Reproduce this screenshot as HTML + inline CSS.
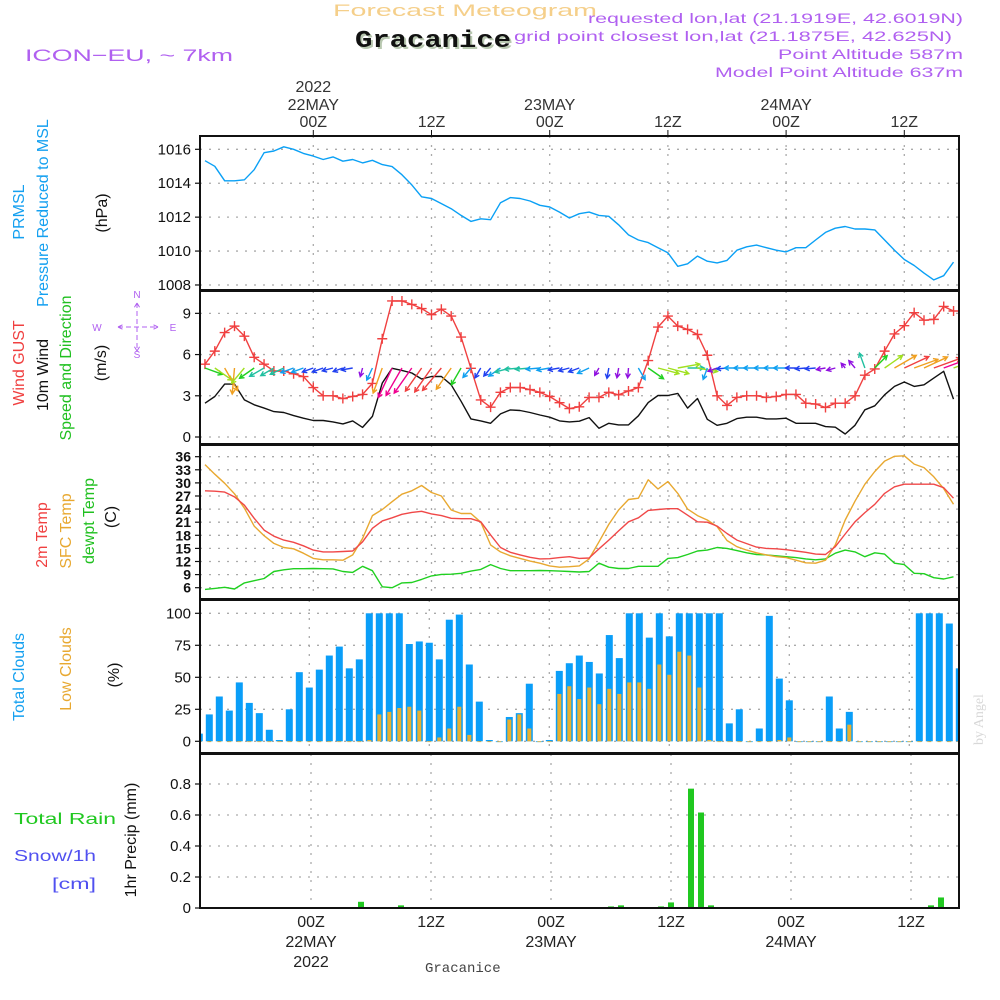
<!DOCTYPE html>
<html><head><meta charset="utf-8"><style>
html,body{margin:0;padding:0;background:#fff;}
svg{display:block;font-family:"Liberation Sans",sans-serif;}
</style></head><body>
<svg id="chart" width="1000" height="1000" viewBox="0 0 1000 1000" xmlns="http://www.w3.org/2000/svg">
<defs><clipPath id="plotclip"><rect x="200" y="136" width="759" height="772"/></clipPath></defs>
<rect width="1000" height="1000" fill="#fff"/>
<g>
<text x="333" y="16" fill="#f5cf8a" font-size="17" textLength="264" lengthAdjust="spacingAndGlyphs">Forecast Meteogram</text>
<text x="357" y="49" fill="#b8c8b0" font-family="Liberation Mono,monospace" font-weight="bold" font-size="24" textLength="156" lengthAdjust="spacingAndGlyphs">Gracanice</text>
<text x="355" y="47" fill="#111" font-family="Liberation Mono,monospace" font-weight="bold" font-size="24" textLength="156" lengthAdjust="spacingAndGlyphs">Gracanice</text>
<text x="25" y="61" fill="#b060f0" font-size="17" textLength="208" lengthAdjust="spacingAndGlyphs">ICON−EU, ~ 7km</text>
<g fill="#b060f0" font-size="14" text-anchor="end">
<text x="963" y="23" textLength="375" lengthAdjust="spacingAndGlyphs">requested lon,lat (21.1919E, 42.6019N)</text>
<text x="952" y="41" textLength="438" lengthAdjust="spacingAndGlyphs">grid point closest lon,lat (21.1875E, 42.625N)</text>
<text x="963" y="59" textLength="185" lengthAdjust="spacingAndGlyphs">Point Altitude 587m</text>
<text x="963" y="77" textLength="248" lengthAdjust="spacingAndGlyphs">Model Point Altitude 637m</text>
</g>
</g>
<g id="static"></g>
<g id="plot"></g>
<text transform="translate(983,745) rotate(-90)" fill="#d8d8d8" font-family="Liberation Serif,serif" font-size="14">by Angel</text>
</svg>
<script>
// ---- data (hourly, 21 MAY 13Z .. 24 MAY 17Z) ----
const hours = Array.from({length:77},(_,i)=>i-11);
const pressure = [1015.33,1015.0,1014.14,1014.14,1014.2,1014.8,1015.8,1015.9,1016.15,1016.0,1015.76,1015.6,1015.4,1015.55,1015.3,1015.4,1015.2,1015.35,1015.1,1014.98,1014.5,1013.9,1013.2,1013.1,1012.8,1012.5,1012.1,1011.75,1011.9,1011.85,1012.85,1013.15,1013.1,1012.95,1012.7,1012.6,1012.3,1011.95,1012.2,1012.3,
1012.1,1012.05,1011.55,1010.95,1010.65,1010.5,1010.2,1009.9,1009.1,1009.25,1009.7,1009.4,1009.3,1009.45,1010.05,1010.25,1010.35,1010.2,1010.05,1009.95,1010.2,1010.2,1010.65,1011.1,1011.35,1011.45,1011.3,1011.3,1011.25,1010.65,1010.05,1009.5,1009.15,1008.7,1008.3,1008.55,1009.35];
const gust = [5.3,6.25,7.6,8.07,7.34,5.8,5.3,4.8,4.8,4.6,4.4,3.6,3.0,3.0,2.8,2.95,3.1,3.9,7.15,9.9,9.9,9.65,9.35,8.9,9.3,8.8,7.27,5.0,2.7,2.17,3.25,3.6,3.6,3.45,3.25,2.95,2.5,2.07,2.2,2.88,
2.88,3.25,3.07,3.35,3.6,5.56,8.0,8.8,8.07,7.83,7.46,5.95,3.0,2.3,2.88,3.0,3.0,2.88,2.95,3.1,3.1,2.46,2.4,2.15,2.46,2.46,3.0,4.5,4.95,6.25,7.5,8.1,9.05,8.5,8.56,9.5,9.17];
const windSpeed = [2.46,2.95,3.85,3.85,2.7,2.34,2.1,1.85,1.78,1.56,1.37,1.2,1.2,1.1,0.95,1.17,0.7,1.5,3.93,5.0,4.85,4.66,4.22,4.4,4.4,3.8,2.6,1.32,1.17,1.0,1.68,1.97,1.93,1.78,1.6,1.44,1.17,1.1,1.15,1.41,
0.63,1.0,0.88,0.88,1.54,2.5,3.02,3.02,3.17,2.1,2.8,1.29,0.85,1.0,1.34,1.44,1.44,1.32,1.32,1.37,1.0,1.0,1.0,0.76,0.71,0.22,0.85,1.98,2.27,3.07,3.68,4.0,3.68,3.8,4.29,4.78,2.76];
const windDir = [20,35,60,95,130,145,150,150,155,160,160,
160,160,165,160,170,105,115,110,115,120,125,
125,125,130,125,120,130,120,130,
145,165,175,175,175,170,170,165,160,155,
120,100,100,95,60,35,15,15,-10,0,
10,110,160,175,180,180,180,180,180,180,180,175,175,170,165,
-130,-130,-110,-45,-35,-30,-25,-20,-25,-20,-20,-20];
const temp2m = [28.2,28.1,27.9,26.8,24.9,21.9,19.2,17.8,16.9,16.4,15.6,14.6,14.2,14.2,14.3,14.4,16.5,19.6,21.3,22.0,22.8,23.25,23.5,22.9,22.5,21.9,21.8,21.8,21.1,18.1,15.2,14.1,13.5,12.95,12.6,12.65,12.9,13.1,12.7,12.8,
14.9,16.9,19.0,21.1,22.0,23.7,23.9,24.1,24.1,22.6,21.1,21.0,20.1,18.4,16.9,16.1,15.3,15.0,14.9,14.7,14.4,14.1,13.7,13.6,15.4,18.3,21.1,23.2,25.1,27.6,29.1,29.7,29.7,29.7,29.7,28.9,26.5];
const sfcTemp = [34.2,32.0,29.9,27.5,24.2,20.1,17.9,16.15,15.2,14.9,13.9,12.7,12.4,12.4,12.3,13.5,17.3,22.5,23.9,25.7,27.4,28.2,29.4,27.8,27.0,23.8,23.0,23.0,21.0,15.8,14.2,13.3,12.7,12.1,11.6,11.0,10.7,10.8,11.0,12.6,
16.5,20.5,23.8,26.2,26.5,30.7,28.6,30.3,27.6,24.0,22.5,21.5,20.0,16.8,15.4,14.6,14.0,13.5,13.1,12.9,12.3,11.7,11.6,12.3,15.8,21.5,25.8,29.7,32.6,35.0,36.1,36.2,34.3,33.5,31.4,28.7,25.1];
const dewpt = [5.6,5.85,6.1,5.7,7.1,7.6,8.1,9.7,10.1,10.35,10.35,10.4,10.35,10.3,9.7,9.5,10.9,9.9,6.2,6.0,7.1,7.2,7.9,8.7,9.05,9.1,9.3,9.8,10.2,11.3,10.4,9.9,9.9,9.9,9.95,9.9,9.8,9.7,9.6,9.7,
11.6,10.7,10.4,10.4,10.9,10.9,10.9,12.7,12.9,13.6,14.4,14.6,15.2,15.0,14.5,14.0,13.6,13.5,13.3,13.1,12.9,12.6,12.4,12.6,13.9,14.6,14.2,13.1,14.0,13.7,11.6,11.3,9.3,9.2,8.3,8.0,8.5];
const totalClouds = [6,21,35,24,46,30,22,9,1,25,54,42,56,67,74,57,64,100,100,100,100,76,78,77,64,95,99,60,31,1,0,19,22,45,0,1,55,61,67,62,53,83,65,100,100,81,100,82,100,100,100,100,100,14,25,0,10,98,49,32,0,0,0,35,10,23,0,0,0,0,0,0,100,100,100,92,57];
const lowClouds = [0,0,0,0,0,0,0,0,0,0,0,0,0,0,0,0,0,1,21,23,26,27,24,0,3,10,27,5,0,0,0,17,21,10,0,0,37,43,33,42,29,41,37,46,46,41,60,52,70,67,42,1,0,0,0,0,0,0,1,3,0,0,0,0,0,13,0,0,0,0,0,0,0,0,0,0,0];
const precip = [0,0,0,0,0,0,0,0,0,0,0,0,0,0,0,0,0.04,0,0,0,0.017,0,0,0,0,0,0,0,0,0,0,0,0,0,0,0,0,0,0,0,0,0.01,0.017,0,0,0,0.01,0.036,0,0.77,0.616,0.017,0,0,0,0,0,0,0,0,0,0,0,0,0,0,0,0,0,0,0,0,0,0.017,0.068,0,0];
const pTicks = [1008,1010,1012,1014,1016];
const wTicks = [0,3,6,9];
const tTicks = [6,9,12,15,18,21,24,27,30,33,36];
const cTicks = [0,25,50,75,100];
const rTicks = [0,0.2,0.4,0.6,0.8];
const timeTicks = [0,12,24,36,48,60];
const timeLabels = ['00Z','12Z','00Z','12Z','00Z','12Z'];
const dayLabels = ['22MAY','','23MAY','','24MAY',''];

// ---- scales ----
const L=200,R=959;
const xT = h => 313.3 + 9.85*h;
const xC = h => 309.3 + 10*h;
const xR = h => 311 + 10*h;
const yP = v => 149.3 + (1016-v)*16.96;
const yW = v => 437 - v*13.74;
const yTm = v => 587.7 - (v-6)*4.367;
const yC = v => 741.3 - v*1.28;
const yR = v => 908 - v*155;
const NS='http://www.w3.org/2000/svg';
const plot=document.getElementById('plot');
const stat=document.getElementById('static');
function mk(tag,attrs,parent){const e=document.createElementNS(NS,tag);for(const k in attrs)e.setAttribute(k,attrs[k]);(parent||plot).appendChild(e);return e;}

const panels=[
 {name:'pressure-panel',top:136,bot:290,ticks:pTicks,y:yP,fmt:v=>v,x:xT},
 {name:'wind-panel',top:291,bot:444,ticks:wTicks,y:yW,fmt:v=>v,x:xT},
 {name:'temperature-panel',top:445,bot:599,ticks:tTicks,y:yTm,fmt:v=>v,x:xT,bold:true},
 {name:'clouds-panel',top:600,bot:753,ticks:cTicks,y:yC,fmt:v=>v,x:xC},
 {name:'precip-panel',top:754,bot:908,ticks:rTicks,y:yR,fmt:v=>v===0?'0':v.toFixed(1),x:xR}
];
panels.forEach(p=>{
  const g=mk('g',{});
  
  
  p.ticks.forEach(t=>{
    const y=p.y(t);
    const gl=mk('line',{x1:L,x2:R,y1:y,y2:y,stroke:'#aaa','stroke-width':1.3,'stroke-dasharray':'2 7'},g);
    
    
    mk('line',{x1:L-5,x2:L,y1:y,y2:y,stroke:'#111','stroke-width':1.2},g);
    const tx=mk('text',{x:L-9,y:y+5,'text-anchor':'end','font-size':p.bold?14:15,fill:'#111','font-weight':p.bold?'bold':'normal'},g);
    tx.textContent=p.fmt(t);
    
    
  });
  timeTicks.forEach(h=>{
    const x=p.x(h);
    const vl=mk('line',{x1:x,x2:x,y1:p.top,y2:p.bot,stroke:'#aaa','stroke-width':1.3,'stroke-dasharray':'2 7'},g);
    
    
  });
  p.g=g;
});

timeTicks.forEach((h,i)=>{
  const x=xT(h);
  mk('line',{x1:x,x2:x,y1:130,y2:136,stroke:'#111'});
  const t=mk('text',{x:x,y:127,'text-anchor':'middle','font-size':16,fill:'#333'},stat);
  t.textContent=timeLabels[i];
  
  
  if(dayLabels[i]){const d=mk('text',{x:x,y:110,'text-anchor':'middle','font-size':16,fill:'#333'},stat);d.textContent=dayLabels[i];
    
    }
  const xb=xR(h);
  const b=mk('text',{x:xb,y:927,'text-anchor':'middle','font-size':16,fill:'#222'},stat);
  b.textContent=timeLabels[i];
  
  
  if(dayLabels[i]){const d=mk('text',{x:xb,y:947,'text-anchor':'middle','font-size':16,fill:'#222'},stat);d.textContent=dayLabels[i];
    
    }
});
{const y1=mk('text',{x:xT(0),y:92,'text-anchor':'middle','font-size':16,fill:'#333'},stat);y1.textContent='2022';


const y2=mk('text',{x:xR(0),y:967,'text-anchor':'middle','font-size':16,fill:'#222'},stat);y2.textContent='2022';


const g2=mk('text',{x:425,y:972,'font-size':14,fill:'#444','font-family':'Liberation Mono,monospace'},stat);g2.textContent='Gracanice';

}

const clipG=mk('g',{'clip-path':'url(#plotclip)'});



function poly(arr,xf,yf,color,name,w){
  const pts=arr.map((v,i)=>xf(hours[i]).toFixed(1)+','+yf(v).toFixed(1)).join(' ');
  const e=mk('polyline',{points:pts,fill:'none',stroke:color,'stroke-width':w||1.4,'stroke-linejoin':'round'},clipG);
  
  
  return e;
}
poly(pressure,xT,yP,'#0aa0f5','pressure-line');
poly(windSpeed,xT,yW,'#111','wind-speed-line');
poly(gust,xT,yW,'#f04040','wind-gust-line');
gust.forEach((v,i)=>{
  const x=xT(hours[i]),y=yW(v);
  const m=mk('path',{d:`M${x-5},${y}h10M${x},${y-5}v10`,stroke:'#f04040','stroke-width':1.4},clipG);
  
  
});
function windColor(s){
  if(s<0.9) return '#9010e0';
  if(s<1.25) return '#2040f0';
  if(s<1.7) return '#10a0f0';
  if(s<2.2) return '#20c0a0';
  if(s<2.7) return '#20d020';
  if(s<3.3) return '#a0e020';
  if(s<4.0) return '#f0a020';
  if(s<4.6) return '#f04040';
  return '#f00090';
}
windSpeed.forEach((s,i)=>{
  const x0=xT(hours[i]),y0=368;
  const len=5+5.5*s;
  const a=windDir[i]*Math.PI/180;
  const x1=x0+len*Math.cos(a),y1=y0+len*Math.sin(a);
  const hl=5,ha=0.5;
  const p1x=x1-hl*Math.cos(a-ha),p1y=y1-hl*Math.sin(a-ha);
  const p2x=x1-hl*Math.cos(a+ha),p2y=y1-hl*Math.sin(a+ha);
  const e=mk('path',{d:`M${x0},${y0}L${x1},${y1}M${p1x},${p1y}L${x1},${y1}L${p2x},${p2y}`,stroke:windColor(s),'stroke-width':1.4,fill:'none'},clipG);
  
  
});
poly(dewpt,xT,yTm,'#20d020','dewpoint-line');
poly(sfcTemp,xT,yTm,'#e8a830','surface-temp-line');
poly(temp2m,xT,yTm,'#f04848','temp-2m-line');
totalClouds.forEach((v,i)=>{
  const x=xC(hours[i]);
  const b=mk('rect',{x:x-3.5,y:yC(v),width:7,height:Math.max(0.8,yC(0)-yC(v)),fill:'#0a9ef8'},clipG);
  
  
  const lv=lowClouds[i];
  const c=mk('rect',{x:x-2,y:yC(lv),width:4,height:Math.max(0.8,yC(0)-yC(lv)),fill:'#e8b030'},clipG);
  
  
});
mk('line',{x1:L,x2:R,y1:yR(0)-0.5,y2:yR(0)-0.5,stroke:'#333','stroke-width':1,'stroke-dasharray':'4 2'});
precip.forEach((v,i)=>{
  if(v<=0) return;
  const x=xR(hours[i]);
  const b=mk('rect',{x:x-3,y:yR(v),width:6,height:yR(0)-yR(v),fill:'#20c820'},clipG);
  
  
});
panels.forEach(p=>{
  const f=mk('rect',{x:L,y:p.top,width:R-L,height:p.bot-p.top,fill:'none',stroke:'#111','stroke-width':2});
  
  
});

function vt(txt,x,y,color,size,name){
  const t=mk('text',{transform:`translate(${x},${y}) rotate(-90)`,'text-anchor':'middle',fill:color,'font-size':size||16},stat);
  t.textContent=txt;
  
  
}
vt('PRMSL',24,212,'#14a0f0',16,'prmsl-label');
vt('Pressure Reduced to MSL',48,213,'#14a0f0',16,'pressure-title');
vt('(hPa)',107,213,'#111',16,'pressure-unit');
vt('Wind GUST',24,363,'#f04040',16,'gust-label');
vt('10m Wind',48,375,'#111',16,'wind-label');
vt('Speed and Direction',71,368,'#20c020',16,'wind-direction-label');
vt('(m/s)',106,363,'#111',16,'wind-unit');
vt('2m Temp',47,535,'#f04040',16,'temp-2m-label');
vt('SFC Temp',71,531,'#e8a830',16,'sfc-temp-label');
vt('dewpt Temp',94,521,'#20c020',16,'dewpt-label');
vt('(C)',116,517,'#111',16,'temp-unit');
vt('Total Clouds',24,677,'#14a0f0',16,'total-clouds-label');
vt('Low Clouds',71,669,'#e8a830',16,'low-clouds-label');
vt('(%)',119,675,'#111',16,'clouds-unit');
vt('1hr Precip (mm)',136,840,'#111',16,'precip-title');
{const a=mk('text',{x:14,y:824,fill:'#20c820','font-size':16,textLength:102,lengthAdjust:'spacingAndGlyphs'},stat);a.textContent='Total   Rain';


const b=mk('text',{x:14,y:861,fill:'#5050f0','font-size':16,textLength:82,lengthAdjust:'spacingAndGlyphs'},stat);b.textContent='Snow/1h';


const c=mk('text',{x:52,y:889,fill:'#5050f0','font-size':16,textLength:44,lengthAdjust:'spacingAndGlyphs'},stat);c.textContent='[cm]';

}
{const g=mk('g',{fill:'#b060f0','font-size':10},stat);


const items=[['N',137,298],['W',97,331],['E',173,331],['S',137,358]];
items.forEach(it=>{const t=mk('text',{x:it[1],y:it[2],'text-anchor':'middle'},g);t.textContent=it[0];});
mk('path',{d:'M118,327h40M118,327l6,-3M118,327l6,3M158,327l-6,-3M158,327l-6,3M137,303v48M137,303l-3,5M137,303l3,5M137,351l-3,-5M137,351l3,-5',stroke:'#b060f0','stroke-width':1,'stroke-dasharray':'5 3',fill:'none'},g);}
</script>
</body></html>
